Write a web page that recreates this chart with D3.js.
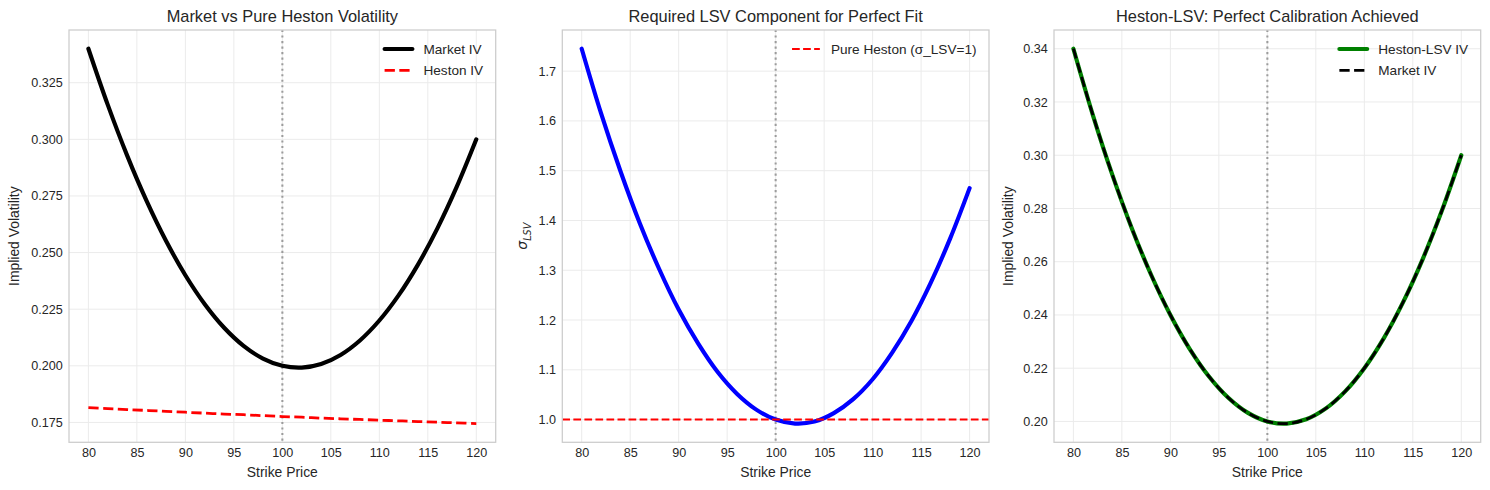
<!DOCTYPE html>
<html>
<head>
<meta charset="utf-8">
<script src="https://cdn.jsdelivr.net/npm/d3@7"></script>
<style>
  body { margin: 0; background: #fff; }
  text { font-family: "Liberation Sans", Arial, sans-serif; fill: #262626; }
</style>
</head>
<body>
<div id="chart"></div>
<script>
// strikes sampled every 2
var strikes = [80, 82, 84, 86, 88, 90, 92, 94, 96, 98, 100, 102, 104, 106, 108, 110, 112, 114, 116, 118, 120];

var marketIV = [0.3400, 0.3152, 0.2928, 0.2728, 0.2552, 0.2400, 0.2272, 0.2168, 0.2088, 0.2032, 0.2000,
                0.1992, 0.2008, 0.2048, 0.2112, 0.2200, 0.2312, 0.2448, 0.2608, 0.2792, 0.3000];
var hestonIV = [0.1815, 0.1811, 0.1807, 0.1803, 0.1799, 0.1795, 0.1791, 0.1787, 0.1784, 0.1780, 0.1776,
                0.1773, 0.1769, 0.1766, 0.1763, 0.1760, 0.1757, 0.1754, 0.1751, 0.1748, 0.1745];
var sigmaLSV = [1.745, 1.615, 1.499, 1.394, 1.302, 1.221, 1.153, 1.096, 1.052, 1.020, 1.000,
                0.992, 0.996, 1.013, 1.041, 1.081, 1.134, 1.198, 1.275, 1.364, 1.465];
var hestonLsvIV = [0.3400, 0.3152, 0.2928, 0.2728, 0.2552, 0.2400, 0.2272, 0.2168, 0.2088, 0.2032, 0.2000,
                   0.1992, 0.2008, 0.2048, 0.2112, 0.2200, 0.2312, 0.2448, 0.2608, 0.2792, 0.3000];

var xTicks = [80, 85, 90, 95, 100, 105, 110, 115, 120];
var yTicks1 = [0.175, 0.200, 0.225, 0.250, 0.275, 0.300, 0.325];
var yTicks2 = [1.0, 1.1, 1.2, 1.3, 1.4, 1.5, 1.6, 1.7];
var yTicks3 = [0.20, 0.22, 0.24, 0.26, 0.28, 0.30, 0.32, 0.34];
var atmStrike = 100;
var pureHestonLevel = 1;

var W = 1490, H = 490;
var svg = d3.select("#chart").append("svg")
    .attr("width", W)
    .attr("height", H);

var plotTop = 30, plotBottom = 442.3;
var panelW = 426.7;
var lefts = [69, 562.3, 1054];
var px = 100 / 72;

function pairs(ys) {
    return strikes.map((k, i) => [k, ys[i]]);
}

function padExtent(arrs) {
    var all = [].concat.apply([], arrs);
    var mn = d3.min(all), mx = d3.max(all);
    var m = (mx - mn) * 0.05;
    return [mn - m, mx + m];
}

function panel(idx, cfg) {
    var x0 = lefts[idx];
    var g = svg.append("g").attr("transform", "translate(" + x0 + "," + plotTop + ")");
    var h = plotBottom - plotTop;

    var xScale = d3.scaleLinear().domain([78, 122]).range([0, panelW]);
    var yScale = d3.scaleLinear().domain(cfg.yDomain).range([h, 0]);

    // grid
    g.append("g").selectAll("line").data(xTicks).enter().append("line")
        .attr("x1", d => xScale(d)).attr("x2", d => xScale(d))
        .attr("y1", 0).attr("y2", h)
        .attr("stroke", "#ebebeb").attr("stroke-width", 1);
    g.append("g").selectAll("line").data(cfg.yTicks).enter().append("line")
        .attr("x1", 0).attr("x2", panelW)
        .attr("y1", d => yScale(d)).attr("y2", d => yScale(d))
        .attr("stroke", "#ebebeb").attr("stroke-width", 1);

    // axes
    var xAxis = d3.axisBottom(xScale).tickValues(xTicks).tickSize(0).tickPadding(5.5)
        .tickFormat(d3.format("d"));
    var xg = g.append("g").attr("transform", "translate(0," + h + ")").call(xAxis);
    var yAxis = d3.axisLeft(yScale).tickValues(cfg.yTicks).tickSize(0).tickPadding(6.3)
        .tickFormat(d3.format(cfg.fmt));
    var yg = g.append("g").call(yAxis);
    [xg, yg].forEach(a => {
        a.select(".domain").remove();
        a.selectAll("text").style("font-size", "12.6px")
            .style("font-family", '"Liberation Sans", Arial, sans-serif').attr("fill", "#262626");
    });

    // ATM marker
    g.append("line")
        .attr("x1", xScale(atmStrike)).attr("x2", xScale(atmStrike))
        .attr("y1", 0).attr("y2", h)
        .attr("stroke", "#808080").attr("stroke-opacity", 0.75)
        .attr("stroke-width", 1.5 * px)
        .attr("stroke-dasharray", (1.5 * px) + "," + (2.475 * px));

    var clip = "clip" + idx;
    g.append("clipPath").attr("id", clip).append("rect")
        .attr("width", panelW).attr("height", h);
    var plot = g.append("g").attr("clip-path", "url(#" + clip + ")");

    var line = d3.line()
        .x(d => xScale(d[0]))
        .y(d => yScale(d[1]))
        .curve(d3.curveCatmullRom);

    cfg.series.forEach(s => {
        var p = s.hline !== undefined
            ? plot.append("line").attr("x1", 0).attr("x2", panelW)
                .attr("y1", yScale(s.hline)).attr("y2", yScale(s.hline))
            : plot.append("path").datum(pairs(s.values)).attr("d", line);
        p.attr("fill", "none")
            .attr("stroke", s.color)
            .attr("stroke-width", s.lw * px)
            .attr("stroke-linecap", s.dashed ? "butt" : "round")
            .attr("stroke-linejoin", "round");
        if (s.dashed) p.attr("stroke-dasharray", (3.7 * s.lw * px) + "," + (1.6 * s.lw * px));
    });

    // frame
    g.append("rect").attr("width", panelW).attr("height", h)
        .attr("fill", "none").attr("stroke", "#cccccc").attr("stroke-width", 1.25);

    // title
    g.append("text").attr("x", panelW / 2).attr("y", 22 - plotTop)
        .attr("text-anchor", "middle").style("font-size", "16.4px")
        .text(cfg.title);

    // axis labels
    g.append("text").attr("x", panelW / 2).attr("y", 476.7 - plotTop)
        .attr("text-anchor", "middle").style("font-size", "13.9px")
        .text("Strike Price");
    var yl = g.append("text")
        .attr("transform", "translate(" + (cfg.yLabelX - x0) + "," + (h / 2) + ") rotate(-90)")
        .attr("text-anchor", "middle").style("font-size", "13.9px");
    if (cfg.yLabel === "sigma") {
        yl.append("tspan").style("font-style", "italic")
            .style("font-family", '"DejaVu Sans", sans-serif').text("σ");
        yl.append("tspan").style("font-style", "italic").style("font-size", "9.7px")
            .style("font-family", '"DejaVu Sans", sans-serif')
            .attr("dy", "3.5").text("LSV");
    } else {
        yl.text(cfg.yLabel);
    }

    // legend
    var legendItems = cfg.series.filter(s => s.label);
    var lg = g.append("g");
    var texts = legendItems.map((s, i) => lg.append("text")
        .attr("y", 19 + i * 21.3).attr("dy", "0.35em")
        .style("font-size", "13.6px").text(s.label));
    var maxW = d3.max(texts, t => t.node().getComputedTextLength());
    var textLeft = panelW - 12.5 - maxW;
    texts.forEach(t => t.attr("x", textLeft));
    legendItems.forEach((s, i) => {
        var hl = lg.append("line")
            .attr("x1", textLeft - 11.1 - 27.8).attr("x2", textLeft - 11.1)
            .attr("y1", 19 + i * 21.3).attr("y2", 19 + i * 21.3)
            .attr("stroke", s.color).attr("stroke-width", s.lw * px)
            .attr("stroke-linecap", s.dashed ? "butt" : "round");
        if (s.dashed) hl.attr("stroke-dasharray", (3.7 * s.lw * px) + "," + (1.6 * s.lw * px));
    });
}

panel(0, {
    title: "Market vs Pure Heston Volatility",
    yLabel: "Implied Volatility", yLabelX: 19,
    yTicks: yTicks1, fmt: ".3f",
    yDomain: padExtent([marketIV, hestonIV]),
    series: [
        {values: marketIV, color: "#000000", lw: 3, label: "Market IV"},
        {values: hestonIV, color: "#ff0000", lw: 2, dashed: true, label: "Heston IV"}
    ]
});

panel(1, {
    title: "Required LSV Component for Perfect Fit",
    yLabel: "sigma", yLabelX: 527,
    yTicks: yTicks2, fmt: ".1f",
    yDomain: padExtent([sigmaLSV]),
    series: [
        {values: sigmaLSV, color: "#0000ff", lw: 3},
        {hline: pureHestonLevel, color: "#ff0000", lw: 1.5, dashed: true, label: "Pure Heston (σ_LSV=1)"}
    ]
});

panel(2, {
    title: "Heston-LSV: Perfect Calibration Achieved",
    yLabel: "Implied Volatility", yLabelX: 1013.3,
    yTicks: yTicks3, fmt: ".2f",
    yDomain: padExtent([hestonLsvIV, marketIV]),
    series: [
        {values: hestonLsvIV, color: "#008000", lw: 3, label: "Heston-LSV IV"},
        {values: marketIV, color: "#000000", lw: 2, dashed: true, label: "Market IV"}
    ]
});
</script>
</body>
</html>
